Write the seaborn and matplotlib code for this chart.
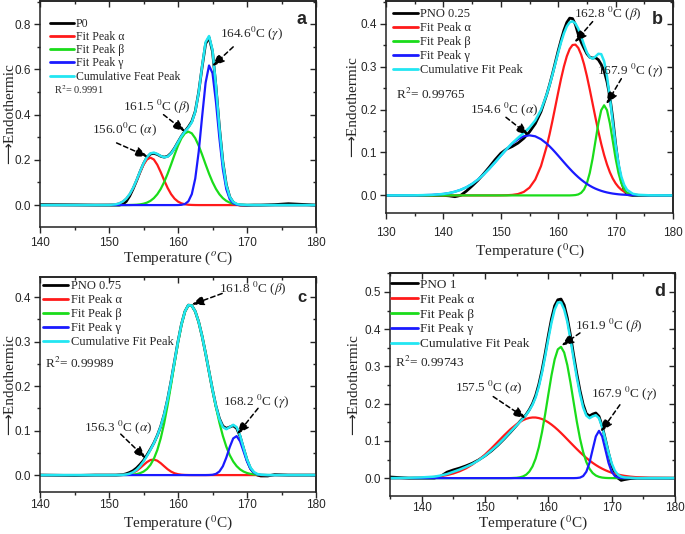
import numpy as np
import pandas as pd
import matplotlib
matplotlib.use("Agg")
import matplotlib.pyplot as plt
import seaborn as sns

# ---------------- datos ----------------
# Panel a : P0
temp_a = [140, 145, 148, 150, 151, 151.5, 152, 152.5, 153, 153.5, 154, 154.5, 155, 155.5, 156, 156.5,
          157, 157.5, 158, 158.5, 159, 159.5, 160, 160.5, 161, 161.5, 162, 162.5, 163, 163.5, 164, 164.5,
          165, 165.5, 166, 166.5, 167, 167.5, 168, 168.5, 169, 170, 171, 172, 174, 176, 178, 180]
p0_a = [0.002, 0.001, 0.0, 0.0, 0.0, 0.0, 0.004, 0.016, 0.04, 0.072, 0.108, 0.147, 0.183, 0.211, 0.226, 0.229,
        0.224, 0.216, 0.212, 0.216, 0.23, 0.252, 0.279, 0.305, 0.327, 0.346, 0.37, 0.415, 0.5, 0.612, 0.714, 0.742,
        0.68, 0.525, 0.345, 0.192, 0.09, 0.036, 0.012, 0.003, 0.0, -0.001, 0.0, 0.0, 0.002, 0.006, 0.003, 0.0]
alfa_a = [0, 0, 0, 0.0006, 0.0035, 0.0077, 0.0154, 0.0284, 0.0483, 0.0757, 0.1093, 0.1455, 0.1784, 0.2016, 0.21, 0.2016,
          0.1784, 0.1455, 0.1093, 0.0757, 0.0483, 0.0284, 0.0154, 0.0077, 0.0035, 0.0015, 0.0006, 0.0002, 0, 0, 0, 0,
          0, 0, 0, 0, 0, 0, 0, 0, 0, 0, 0, 0, 0, 0, 0, 0]
beta_a = [0, 0, 0, 0, 0, 0, 0.0001, 0.0002, 0.0004, 0.0008, 0.0016, 0.0032, 0.006, 0.0108, 0.0186, 0.0306,
          0.0479, 0.0716, 0.1021, 0.1388, 0.18, 0.2227, 0.2627, 0.2957, 0.3174, 0.325, 0.3174, 0.2957, 0.2627, 0.2227, 0.18, 0.1388,
          0.1021, 0.0716, 0.0479, 0.0306, 0.0186, 0.0108, 0.006, 0.0032, 0.0016, 0.0004, 0.0001, 0, 0, 0, 0, 0]
gamma_a = [0, 0, 0, 0, 0, 0, 0, 0, 0, 0, 0, 0, 0, 0, 0, 0,
           0, 0, 0, 0, 0, 0, 0.0002, 0.0011, 0.0047, 0.0165, 0.0484, 0.1174, 0.236, 0.3928, 0.5413, 0.6177,
           0.5837, 0.4567, 0.2959, 0.1588, 0.0705, 0.0259, 0.0079, 0.002, 0.0004, 0, 0, 0, 0, 0, 0, 0]
acum_a = [0, 0, 0, 0.0006, 0.0035, 0.0077, 0.0155, 0.0286, 0.0487, 0.0765, 0.1109, 0.1487, 0.1844, 0.2124, 0.2286, 0.2322,
          0.2263, 0.2171, 0.2114, 0.2145, 0.2283, 0.2511, 0.2783, 0.3045, 0.3256, 0.343, 0.3664, 0.4133, 0.4987, 0.6155, 0.7213, 0.748,
          0.6858, 0.5283, 0.3438, 0.1894, 0.0891, 0.0367, 0.0139, 0.0052, 0.002, 0.0004, 0.0001, 0, 0, 0, 0, 0]

# Panel b : PNO 0.25
temp_b = [130, 135, 138, 140, 141, 142, 143, 144, 145, 146, 147, 148, 149, 150, 151, 152, 153, 154, 155, 156, 157, 158,
          158.5, 159, 159.5, 160, 160.5, 161, 161.5, 162, 162.5, 163, 163.5, 164, 164.5, 165, 165.5, 166, 166.5, 167,
          167.5, 168, 168.5, 169, 169.5, 170, 170.5, 171, 171.5, 172, 173, 174, 176, 180]
pno025 = [0, 0, 0, 0, -0.001, -0.003, 0.0, 0.01, 0.022, 0.035, 0.05, 0.066, 0.083, 0.098, 0.108, 0.114, 0.122, 0.133, 0.148, 0.167, 0.195, 0.235,
          0.258, 0.283, 0.31, 0.337, 0.362, 0.385, 0.403, 0.413, 0.412, 0.398, 0.375, 0.357, 0.343, 0.33, 0.322, 0.32, 0.321, 0.316,
          0.305, 0.29, 0.265, 0.23, 0.18, 0.12, 0.07, 0.035, 0.012, 0.002, 0, 0, 0, 0]
alfa_b = [0, 0, 0, 0, 0, 0, 0, 0, 0, 0, 0, 0, 0, 0.0001, 0.0004, 0.0012, 0.0032, 0.0081, 0.0181, 0.0369, 0.0682, 0.1144,
          0.1428, 0.174, 0.2069, 0.2401, 0.272, 0.3005, 0.3242, 0.3412, 0.3505, 0.3513, 0.3437, 0.3281, 0.3057, 0.278, 0.2467, 0.2136, 0.1805, 0.1489,
          0.1198, 0.0941, 0.0722, 0.054, 0.0394, 0.0281, 0.0195, 0.0132, 0.0088, 0.0057, 0.0022, 0.0008, 0.0001, 0]
beta_b = [0, 0, 0, 0, 0, 0, 0, 0, 0, 0, 0, 0, 0, 0, 0, 0, 0, 0, 0, 0, 0, 0,
          0, 0, 0, 0, 0, 0, 0, 0, 0.0003, 0.0008, 0.0023, 0.006, 0.0138, 0.0284, 0.0524, 0.0863, 0.1274, 0.1681,
          0.1987, 0.21, 0.1987, 0.1681, 0.1274, 0.0863, 0.0524, 0.0284, 0.0138, 0.006, 0.0008, 0.0001, 0, 0]
gamma_b = [0, 0.0002, 0.0012, 0.0034, 0.0055, 0.0086, 0.013, 0.0189, 0.0268, 0.0367, 0.0486, 0.0623, 0.0772, 0.0926, 0.1075, 0.1207, 0.131, 0.1377, 0.14, 0.1377, 0.131, 0.1207,
           0.1143, 0.1075, 0.1002, 0.0926, 0.0849, 0.0772, 0.0696, 0.0623, 0.0552, 0.0486, 0.0424, 0.0367, 0.0315, 0.0268, 0.0226, 0.0189, 0.0157, 0.013,
           0.0106, 0.0086, 0.0069, 0.0055, 0.0043, 0.0034, 0.0026, 0.002, 0.0016, 0.0012, 0.0007, 0.0004, 0.0001, 0]
acum_b = [0, 0.0002, 0.0012, 0.0034, 0.0055, 0.0086, 0.013, 0.0189, 0.0268, 0.0367, 0.0486, 0.0623, 0.0772, 0.0927, 0.1079, 0.1219, 0.1342, 0.1458, 0.1581, 0.1746, 0.1992, 0.2351,
          0.2571, 0.2815, 0.3071, 0.3327, 0.3569, 0.3777, 0.3938, 0.4035, 0.4057, 0.4007, 0.3884, 0.3708, 0.351, 0.3332, 0.3217, 0.3188, 0.3236, 0.33,
          0.3291, 0.3127, 0.2778, 0.2276, 0.1711, 0.1178, 0.0745, 0.0436, 0.0242, 0.0129, 0.0037, 0.0013, 0.0002, 0]

# Panel c : PNO 0.75
temp_c = [140, 145, 148, 150, 151, 152, 152.5, 153, 153.5, 154, 154.5, 155, 155.5, 156, 156.5, 157, 157.5, 158,
          158.5, 159, 159.5, 160, 160.5, 161, 161.5, 162, 162.5, 163, 163.5, 164, 164.5, 165, 165.5, 166, 166.5, 167,
          167.5, 168, 168.5, 169, 169.5, 170, 170.5, 171, 171.5, 172, 173, 174, 176, 180]
pno075 = [0.0, -0.001, 0.0, 0.0, 0.0, 0.001, 0.003, 0.006, 0.01, 0.016, 0.024, 0.033, 0.045, 0.058, 0.072, 0.089, 0.1095, 0.1365,
          0.1706, 0.2112, 0.2557, 0.3, 0.3388, 0.3674, 0.3818, 0.3808, 0.3677, 0.3439, 0.3115, 0.2734, 0.2325, 0.1919, 0.1552, 0.127, 0.11, 0.105,
          0.108, 0.111, 0.105, 0.087, 0.06, 0.034, 0.015, 0.005, 0.0, -0.002, -0.002, 0.001, 0.0, 0.0]
alfa_c = [0, 0, 0, 0, 0.0001, 0.0005, 0.0012, 0.0027, 0.0054, 0.0097, 0.0157, 0.0226, 0.0292, 0.0338, 0.0349, 0.0323, 0.0267, 0.0198,
          0.0131, 0.0078, 0.0041, 0.002, 0.0008, 0.0003, 0.0001, 0, 0, 0, 0, 0, 0, 0, 0, 0, 0, 0,
          0, 0, 0, 0, 0, 0, 0, 0, 0, 0, 0, 0, 0, 0]
beta_c = [0, 0, 0, 0, 0, 0.0001, 0.0002, 0.0005, 0.0011, 0.0022, 0.0043, 0.0078, 0.0136, 0.0228, 0.0366, 0.0563, 0.0828, 0.1167,
          0.1575, 0.2034, 0.2516, 0.298, 0.338, 0.3671, 0.3817, 0.3808, 0.3677, 0.3439, 0.3115, 0.2734, 0.2323, 0.1912, 0.1525, 0.1178, 0.0881, 0.0639,
          0.0448, 0.0305, 0.0201, 0.0128, 0.0079, 0.0047, 0.0027, 0.0015, 0.0008, 0.0004, 0.0001, 0, 0, 0]
gamma_c = [0, 0, 0, 0, 0, 0, 0, 0, 0, 0, 0, 0, 0, 0, 0, 0, 0, 0,
           0, 0, 0, 0, 0, 0, 0, 0, 0, 0, 0, 0, 0.0002, 0.0007, 0.0027, 0.0081, 0.0198, 0.0392,
           0.063, 0.0824, 0.0876, 0.0758, 0.0534, 0.0306, 0.0142, 0.0054, 0.0017, 0.0004, 0, 0, 0, 0]
acum_c = [0, 0, 0, 0, 0.0001, 0.0006, 0.0014, 0.0032, 0.0065, 0.0119, 0.02, 0.0304, 0.0428, 0.0566, 0.0715, 0.0886, 0.1095, 0.1365,
          0.1706, 0.2112, 0.2557, 0.3, 0.3388, 0.3674, 0.3818, 0.3808, 0.3677, 0.3439, 0.3115, 0.2734, 0.2325, 0.1919, 0.1552, 0.1259, 0.1079, 0.1031,
          0.1078, 0.1129, 0.1077, 0.0886, 0.0613, 0.0353, 0.0169, 0.0069, 0.0025, 0.0008, 0.0001, 0, 0, 0]

# Panel d : PNO 1
temp_d = [135, 138, 140, 141, 142, 143, 144, 145, 146, 147, 148, 149, 150, 151, 152, 153, 154, 155,
          155.5, 156, 156.5, 157, 157.5, 158, 158.5, 159, 159.5, 160, 160.5, 161, 161.5, 162, 162.5, 163, 163.5, 164,
          164.5, 165, 165.5, 166, 166.5, 167, 167.5, 168, 168.5, 169, 169.5, 170, 170.5, 171, 171.5, 172, 173, 174, 176, 180]
pno1 = [0.003, 0.0, 0.0, 0.0, 0.0, 0.005, 0.016, 0.022, 0.027, 0.033, 0.04, 0.049, 0.06, 0.073, 0.088, 0.105, 0.123, 0.142,
        0.152, 0.161, 0.171, 0.184, 0.2, 0.222, 0.252, 0.29, 0.335, 0.383, 0.428, 0.463, 0.479, 0.481, 0.465, 0.43, 0.383, 0.33,
        0.28, 0.235, 0.198, 0.173, 0.167, 0.172, 0.175, 0.166, 0.14, 0.105, 0.068, 0.035, 0.013, 0.0, -0.006, -0.004, -0.001, 0, 0, 0]
alfa_d = [0, 0.0003, 0.0011, 0.0019, 0.0032, 0.0052, 0.0082, 0.0125, 0.0184, 0.0263, 0.0364, 0.0488, 0.0633, 0.0797, 0.0971, 0.1146, 0.131, 0.1451,
          0.1509, 0.1557, 0.1593, 0.1617, 0.1629, 0.1628, 0.1613, 0.1587, 0.1548, 0.1498, 0.1438, 0.137, 0.1295, 0.1214, 0.1129, 0.1041, 0.0953, 0.0866,
          0.078, 0.0697, 0.0618, 0.0543, 0.0474, 0.041, 0.0352, 0.03, 0.0254, 0.0213, 0.0177, 0.0146, 0.012, 0.0097, 0.0078, 0.0062, 0.0039, 0.0024, 0.0008, 0.0001]
beta_d = [0, 0, 0, 0, 0, 0, 0, 0, 0, 0, 0, 0, 0, 0, 0, 0, 0.0001, 0.0009,
          0.0021, 0.0046, 0.0092, 0.0176, 0.0314, 0.0527, 0.0832, 0.1234, 0.1718, 0.2248, 0.2763, 0.319, 0.346, 0.3526, 0.3375, 0.3034, 0.2563, 0.2035,
          0.1516, 0.1062, 0.0699, 0.0432, 0.0251, 0.0137, 0.007, 0.0034, 0.0015, 0.0006, 0.0002, 0.0001, 0, 0, 0, 0, 0, 0, 0, 0]
gamma_d = [0, 0, 0, 0, 0, 0, 0, 0, 0, 0, 0, 0, 0, 0, 0, 0, 0, 0,
           0, 0, 0, 0, 0, 0, 0, 0, 0, 0, 0, 0, 0, 0, 0, 0, 0, 0,
           0.0003, 0.0014, 0.0056, 0.0172, 0.0412, 0.077, 0.1121, 0.127, 0.1121, 0.077, 0.0412, 0.0172, 0.0056, 0.0014, 0.0003, 0, 0, 0, 0, 0]
acum_d = [0, 0.001, 0.002, 0.003, 0.004, 0.007, 0.011, 0.017, 0.023, 0.03, 0.038, 0.048, 0.06, 0.074, 0.089, 0.106, 0.124, 0.142,
          0.151, 0.16, 0.17, 0.182, 0.197, 0.217, 0.246, 0.283, 0.327, 0.374, 0.418, 0.453, 0.472, 0.472, 0.453, 0.42, 0.372, 0.32,
          0.27, 0.226, 0.19, 0.168, 0.161, 0.166, 0.169, 0.161, 0.137, 0.104, 0.069, 0.04, 0.02, 0.009, 0.004, 0.002, 0.001, 0, 0, 0]

# ---------------- estilo ----------------
sns.set_theme(style="ticks")
plt.rcParams['font.family'] = ['Liberation Sans', 'DejaVu Sans']
plt.rcParams['mathtext.fontset'] = 'stix'
serif = ['Liberation Serif', 'DejaVu Serif']
arrow_font = ['Liberation Serif', 'DejaVu Sans']

colores = {'data': '#000000', 'alfa': '#ff1a1a', 'beta': '#1adc1a', 'gamma': '#1a1aff', 'acum': '#22e6f2'}


def dibujar_panel(ax, x, datos, alfa, beta, gamma, acum, nombres, xlim, ylim, ymajor, yminor, xticks, xminor,
                  xlabel, ylab_x, xlab_y, xpad, leg_pos, leg_size, leg_space):
    sns.lineplot(x=x, y=datos, ax=ax, color=colores['data'], lw=2.0, label=nombres[0], sort=False)
    sns.lineplot(x=x, y=alfa, ax=ax, color=colores['alfa'], lw=1.6, label=nombres[1], sort=False)
    sns.lineplot(x=x, y=beta, ax=ax, color=colores['beta'], lw=1.6, label=nombres[2], sort=False)
    sns.lineplot(x=x, y=gamma, ax=ax, color=colores['gamma'], lw=1.6, label=nombres[3], sort=False)
    sns.lineplot(x=x, y=acum, ax=ax, color=colores['acum'], lw=1.8, label=nombres[4], sort=False)
    # ticks primero, limites despues
    ax.set_xticks(xticks)
    ax.set_xticks(xminor, minor=True)
    ax.set_yticks(ymajor)
    ax.set_yticks(yminor, minor=True)
    ax.set_yticklabels([f"{v:.1f}" for v in ymajor])
    ax.set_xlim(*xlim)
    ax.set_ylim(*ylim)
    ax.tick_params(which='both', direction='out', labelsize=8.5, width=1)
    ax.tick_params(axis='x', pad=xpad)
    ax.tick_params(axis='y', pad=2.5)
    ax.tick_params(which='major', length=4)
    ax.tick_params(which='minor', length=2.5)
    # ticks hacia adentro arriba y a la derecha
    arriba = ax.secondary_xaxis('top')
    arriba.set_xticks(xticks)
    arriba.set_xticks(xminor, minor=True)
    arriba.tick_params(which='both', direction='in', labeltop=False, width=1)
    arriba.tick_params(which='major', length=4)
    arriba.tick_params(which='minor', length=2.5)
    derecha = ax.secondary_yaxis('right')
    derecha.set_yticks(ymajor)
    derecha.set_yticks(yminor, minor=True)
    derecha.tick_params(which='both', direction='in', labelright=False, width=1)
    derecha.tick_params(which='major', length=4)
    derecha.tick_params(which='minor', length=2.5)
    for s in list(ax.spines.values()) + [arriba.spines['top'], derecha.spines['right']]:
        s.set_linewidth(1.1)
        s.set_color('#222222')
    ax.set_xlabel(xlabel, family=serif, fontsize=11)
    ax.xaxis.set_label_coords(0.5, xlab_y)
    ax.set_ylabel('\u27f6Endothermic', family=arrow_font, fontsize=11)
    ax.yaxis.set_label_coords(ylab_x, 0.5)
    leg = ax.legend(loc='upper left', bbox_to_anchor=leg_pos, frameon=False, handlelength=2.0,
                    handletextpad=0.2, labelspacing=leg_space, borderaxespad=0, borderpad=0,
                    prop={'family': serif, 'size': leg_size})
    for linea in leg.get_lines():
        linea.set_linewidth(2.0)


def flecha(ax, texto, xy_texto, xy_punta, xy_cola):
    ax.text(xy_texto[0], xy_texto[1], texto, ha='center', va='center', family=serif, fontsize=9.5)
    ax.annotate('', xy=xy_punta, xytext=xy_cola,
                arrowprops=dict(arrowstyle='-|>,head_length=0.6,head_width=0.25', ls=(0, (3, 2)),
                                color='black', lw=1.1, shrinkA=0, shrinkB=0))


W, H = 685.0, 534.0
fig = plt.figure(figsize=(6.85, 5.34), dpi=100)
# posiciones en pixeles (izq, arriba, der, abajo)
ax_a = fig.add_axes([40 / W, 1 - 227 / H, 276 / W, 226 / H])
ax_b = fig.add_axes([386 / W, 1 - 213 / H, 287 / W, 212 / H])
ax_c = fig.add_axes([40 / W, 1 - 492 / H, 276 / W, 215 / H])
ax_d = fig.add_axes([390 / W, 1 - 496 / H, 285 / W, 223 / H])

# Panel a
dibujar_panel(ax_a, temp_a, p0_a, alfa_a, beta_a, gamma_a, acum_a,
              ['P0', 'Fit Peak \u03b1', 'Fit Peak \u03b2', 'Fit Peak \u03b3', 'Cumulative Feat Peak'],
              (140, 180), (-0.097, 0.903), [0.0, 0.2, 0.4, 0.6, 0.8], np.arange(-0.1, 0.91, 0.1),
              [140, 150, 160, 170, 180], np.arange(140, 181, 5), 'Temperature ($^o$C)', -0.087, -0.1, 3,
              (0.036, 0.925), 8.5, 0.1)
ax_a.text(142.0, 0.51, 'R$^2$= 0.9991', family=serif, fontsize=7.5, va='center')
ax_a.text(0.965, 0.955, 'a', transform=ax_a.transAxes, ha='right', va='top', fontsize=13, fontweight='bold')
flecha(ax_a, '156.0$^0$C ($\\alpha$)', (152.3, 0.335), (155.6, 0.214), (151.1, 0.275))
flecha(ax_a, '161.5 $^0$C ($\\beta$)', (156.9, 0.435), (161.0, 0.326), (157.9, 0.40))
flecha(ax_a, '164.6$^0$C ($\\gamma$)', (170.7, 0.755), (165.0, 0.615), (168.0, 0.70))

# Panel b
dibujar_panel(ax_b, temp_b, pno025, alfa_b, beta_b, gamma_b, acum_b,
              ['PNO 0.25', 'Fit Peak \u03b1', 'Fit Peak \u03b2', 'Fit Peak \u03b3', 'Cumulative Fit Peak'],
              (130, 180), (-0.041, 0.453), [0.0, 0.1, 0.2, 0.3, 0.4], np.arange(-0.05, 0.451, 0.05),
              [130, 140, 150, 160, 170, 180], np.arange(130, 181, 5), 'Temperature ($^0$C)', -0.095, -0.13, 6,
              (0.024, 0.965), 9, 0.15)
ax_b.text(131.8, 0.236, 'R$^2$= 0.99765', family=serif, fontsize=9.5, va='center')
ax_b.text(0.965, 0.955, 'b', transform=ax_b.transAxes, ha='right', va='top', fontsize=13, fontweight='bold')
flecha(ax_b, '154.6 $^0$C ($\\alpha$)', (150.5, 0.2), (154.8, 0.141), (150.9, 0.182))
flecha(ax_b, '162.8 $^0$C ($\\beta$)', (168.6, 0.422), (162.9, 0.357), (166.0, 0.405))
flecha(ax_b, '167.9 $^0$C ($\\gamma$)', (172.5, 0.29), (168.4, 0.213), (171.0, 0.272))

# Panel c
dibujar_panel(ax_c, temp_c, pno075, alfa_c, beta_c, gamma_c, acum_c,
              ['PNO 0.75', 'Fit Peak \u03b1', 'Fit Peak \u03b2', 'Fit Peak \u03b3', 'Cumulative Fit Peak'],
              (140, 180), (-0.038, 0.445), [0.0, 0.1, 0.2, 0.3, 0.4], np.arange(-0.05, 0.441, 0.05),
              [140, 150, 160, 170, 180], np.arange(140, 181, 5), 'Temperature ($^0$C)', -0.087, -0.1, 1,
              (0.011, 0.984), 9, 0.15)
ax_c.text(140.7, 0.25, 'R$^2$= 0.99989', family=serif, fontsize=9.5, va='center')
ax_c.text(0.965, 0.94, 'c', transform=ax_c.transAxes, ha='right', va='top', fontsize=12, fontweight='bold')
flecha(ax_c, '156.3 $^0$C ($\\alpha$)', (151.4, 0.108), (155.3, 0.038), (151.7, 0.092))
flecha(ax_c, '161.8 $^0$C ($\\beta$)', (170.8, 0.418), (162.0, 0.383), (166.4, 0.408))
flecha(ax_c, '168.2 $^0$C ($\\gamma$)', (171.3, 0.165), (168.6, 0.092), (171.6, 0.150))

# Panel d
dibujar_panel(ax_d, temp_d, pno1, alfa_d, beta_d, gamma_d, acum_d,
              ['PNO 1', 'Fit Peak \u03b1', 'Fit Peak \u03b2', 'Fit Peak \u03b3', 'Cumulative Fit Peak'],
              (135, 180), (-0.048, 0.551), [0.0, 0.1, 0.2, 0.3, 0.4, 0.5], np.arange(-0.05, 0.551, 0.05),
              [140, 150, 160, 170, 180], np.arange(135, 181, 5), 'Temperature ($^0$C)', -0.105, -0.078, 0.5,
              (0.005, 0.975), 9.5, 0.2)
ax_d.text(135.8, 0.31, 'R$^2$= 0.99743', family=serif, fontsize=9.5, va='center')
ax_d.text(0.965, 0.955, 'd', transform=ax_d.transAxes, ha='right', va='top', fontsize=13, fontweight='bold')
flecha(ax_d, '157.5 $^0$C ($\\alpha$)', (150.6, 0.243), (156.4, 0.161), (151.3, 0.219))
flecha(ax_d, '161.9 $^0$C ($\\beta$)', (169.5, 0.41), (162.1, 0.356), (165.0, 0.39))
flecha(ax_d, '167.9 $^0$C ($\\gamma$)', (172.0, 0.225), (168.3, 0.125), (171.3, 0.197))

fig.savefig('out.png', dpi=100)
